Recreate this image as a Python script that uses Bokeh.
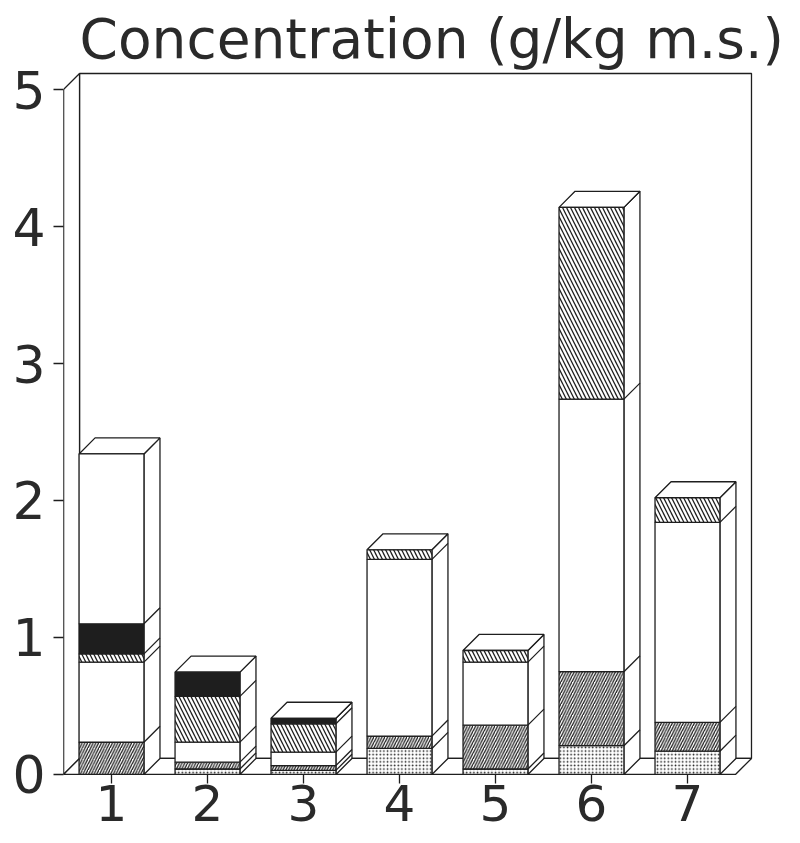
from bokeh.plotting import figure
from bokeh.models import FixedTicker
from bokeh.embed import file_html
from bokeh.resources import INLINE

# ---- data ----
categories = [1, 2, 3, 4, 5, 6, 7]
dotted     = [0.00, 0.04, 0.03, 0.19, 0.04, 0.21, 0.17]
fwd_hatch  = [0.235, 0.05, 0.035, 0.09, 0.32, 0.54, 0.21]
white_low  = [0.585, 0.146, 0.098, 1.29, 0.46, 1.99, 1.46]
back_hatch = [0.06, 0.334, 0.207, 0.07, 0.085, 1.40, 0.18]
black      = [0.22, 0.177, 0.04, 0.0, 0.0, 0.0, 0.0]
white_top  = [1.24, 0.0, 0.0, 0.0, 0.0, 0.0, 0.0]
y_ticks    = [0, 1, 2, 3, 4, 5]
x_ticks    = [1, 2, 3, 4, 5, 6, 7]
title_text = "Concentration (g/kg m.s.)"

series = [dotted, fwd_hatch, white_low, back_hatch, black, white_top]

# ---- styles ----
INK = "#1e1e1e"
LW = 1.3
seg_styles = [
    dict(fill_color="white", hatch_pattern="dot", hatch_scale=3.6, hatch_weight=2.0, hatch_color=INK),
    dict(fill_color="white", hatch_pattern="right_diagonal_line", hatch_scale=5.5, hatch_weight=1.3, hatch_color=INK),
    dict(fill_color="white"),
    dict(fill_color="white", hatch_pattern="left_diagonal_line", hatch_scale=8, hatch_weight=1.3, hatch_color=INK),
    dict(fill_color=INK),
    dict(fill_color="white"),
]
HALF = 0.338   # half bar width (x units)
DX = 0.167     # depth offset x (x units)
DY = 0.117     # depth offset y (y units)
X0, X1 = 0.5, 7.5
YMAX = 5

p = figure(width=800, height=843, x_range=(0.5, 7.74), y_range=(-0.504, 5.139),
           output_backend="svg", toolbar_location=None,
           min_border_left=63, min_border_right=42, min_border_top=70, min_border_bottom=0)
p.background_fill_color = "white"
p.border_fill_color = "white"
p.outline_line_color = None
p.xgrid.visible = False
p.ygrid.visible = False

# title
p.title.text = title_text
p.title.text_font = "DejaVu Sans"
p.title.text_font_size = "55px"
p.title.text_font_style = "normal"
p.title.text_color = "#2a2a2a"
p.title.align = "left"
p.title.offset = 16
p.title.standoff = 0

# axes
ya = p.yaxis[0]
ya.ticker = FixedTicker(ticks=y_ticks)
ya.axis_line_color = None
ya.major_tick_out = 10
ya.major_tick_in = 0
ya.minor_tick_line_color = None
ya.major_tick_line_color = INK
ya.major_tick_line_width = LW
ya.major_label_standoff = 8
ya.major_label_text_font = "DejaVu Sans"
ya.major_label_text_font_size = "52px"
ya.major_label_text_color = "#2a2a2a"

xa = p.xaxis[0]
xa.fixed_location = 0
xa.ticker = FixedTicker(ticks=x_ticks)
xa.axis_line_color = None
xa.major_tick_out = 9
xa.major_tick_in = 0
xa.minor_tick_line_color = None
xa.major_tick_line_color = INK
xa.major_tick_line_width = LW
xa.major_label_standoff = 2
xa.major_label_text_font = "DejaVu Sans"
xa.major_label_text_font_size = "50px"
xa.major_label_text_color = "#2a2a2a"

# ---- 3D box: back wall, left wall, floor ----
p.patch([X0 + DX, X1 + DX, X1 + DX, X0 + DX], [DY, DY, YMAX + DY, YMAX + DY],
        fill_color="white", line_color=INK, line_width=LW)
p.patch([X0, X0 + DX, X0 + DX, X0], [0, DY, YMAX + DY, YMAX],
        fill_color="white", line_color=INK, line_width=LW)
p.patch([X0, X1, X1 + DX, X0 + DX], [0, 0, DY, DY],
        fill_color="white", line_color=INK, line_width=LW)
p.segment(x0=[X0], y0=[0], x1=[X0], y1=[YMAX], line_color=INK, line_width=LW)

# ---- bars ----
for i, c in enumerate(categories):
    left, right = c - HALF, c + HALF
    bottoms = []
    base = 0.0
    for s in series:
        bottoms.append(base)
        base += s[i]
    top = base
    # side face
    p.patch([right, right + DX, right + DX, right], [0, DY, top + DY, top],
            fill_color="white", line_color=INK, line_width=LW)
    # top face
    p.patch([left, right, right + DX, left + DX], [top, top, top + DY, top + DY],
            fill_color="white", line_color=INK, line_width=LW)
    # front segments + boundary lines on the side
    for k, s in enumerate(series):
        h = s[i]
        if h <= 0:
            continue
        b = bottoms[k]
        p.quad(left=[left], right=[right], bottom=[b], top=[b + h],
               line_color=INK, line_width=LW, **seg_styles[k])
        if b > 0:
            p.segment(x0=[right], y0=[b], x1=[right + DX], y1=[b + DY],
                      line_color=INK, line_width=LW)

open("out.html", "w").write(file_html(p, INLINE))
